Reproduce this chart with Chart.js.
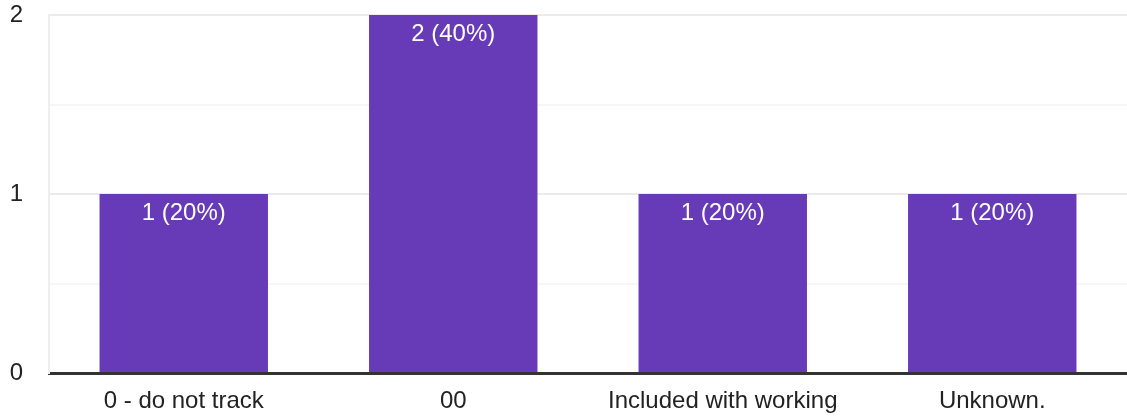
<!DOCTYPE html>
<html>
<head>
<meta charset="utf-8">
<script src="https://cdn.jsdelivr.net/npm/chart.js@4.4.1/dist/chart.umd.min.js"></script>
<style>
html,body{margin:0;padding:0;background:#fff;}
#wrap{width:1127px;height:417px;position:relative;}
</style>
</head>
<body>
<div id="wrap"><canvas id="c" width="1127" height="417"></canvas></div>
<script>
const categories = ["0 - do not track", "00", "Included with working", "Unknown."];
const counts = [1, 2, 1, 1];
const yTickLabels = ["0", "1", "2"];

const total = counts.reduce((a, b) => a + b, 0);
const FONT = "'Liberation Sans', Arial, sans-serif";

const barLabels = {
  id: 'barLabels',
  afterDatasetsDraw(chart) {
    const ctx = chart.ctx;
    const meta = chart.getDatasetMeta(0);
    ctx.save();
    ctx.fillStyle = '#ffffff';
    ctx.font = '24px ' + FONT;
    ctx.textAlign = 'center';
    ctx.textBaseline = 'middle';
    meta.data.forEach((bar, i) => {
      const v = counts[i];
      const pct = Math.round(v / total * 100);
      ctx.fillText(v + ' (' + pct + '%)', bar.x, bar.y + 19);
    });
    ctx.restore();
  }
};

new Chart(document.getElementById('c'), {
  type: 'bar',
  data: {
    labels: categories,
    datasets: [{
      data: counts,
      backgroundColor: '#673ab7',
      borderWidth: 0,
      categoryPercentage: 1,
      barPercentage: 0.625
    }]
  },
  options: {
    responsive: false,
    animation: false,
    devicePixelRatio: 1,
    layout: { padding: { top: 15, right: 0, left: 0, bottom: 0 } },
    plugins: { legend: { display: false }, tooltip: { enabled: false } },
    scales: {
      x: {
        grid: { display: false },
        border: { display: true, color: '#333333', width: 3 },
        ticks: {
          color: '#222222',
          font: { family: FONT, size: 24 },
          padding: 6,
          maxRotation: 0,
          autoSkip: false
        },
        afterFit(s) { s.height = 44; s.paddingLeft = 0; s.paddingRight = 0; }
      },
      y: {
        min: 0,
        max: 2,
        border: { display: true, color: '#eeeeee', width: 2 },
        grid: {
          drawTicks: false,
          lineWidth: 2,
          color(ctx) {
            const v = ctx.tick ? ctx.tick.value : 0;
            if (v === 0) return 'rgba(0,0,0,0)';
            return Number.isInteger(v) ? '#ebebeb' : '#f6f6f6';
          }
        },
        ticks: {
          stepSize: 0.5,
          color: '#222222',
          font: { family: FONT, size: 24 },
          padding: 26,
          autoSkip: false,
          callback(v) {
            return Number.isInteger(v) ? yTickLabels[v] : '';
          }
        },
        afterFit(s) { s.width = 49; s.paddingTop = 0; s.paddingBottom = 0; }
      }
    }
  },
  plugins: [barLabels]
});
</script>
</body>
</html>
